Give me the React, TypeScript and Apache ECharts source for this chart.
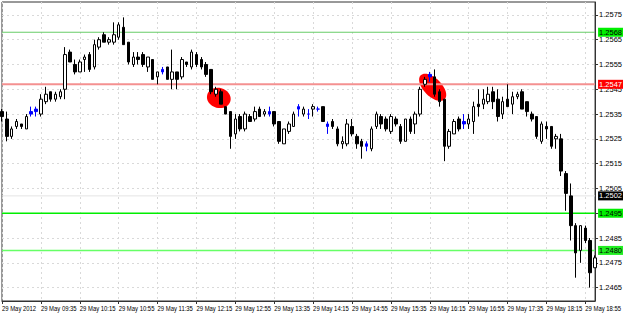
import React, { useEffect, useRef } from "react";
import * as echarts from "echarts";

// ---- data (5-minute bars, 29 May 2012, first bar 08:55) ----
const startMinutes = 8 * 60 + 55;
const barMinutes = 5;

const opens = [
  1.2536, 1.2533, 1.2526, 1.2530, 1.2531, 1.2529, 1.2536, 1.2537, 1.2535, 1.2540,
  1.2544, 1.2541, 1.2542, 1.2545, 1.2560, 1.2555, 1.2552, 1.2557, 1.2559, 1.2554,
  1.2562, 1.2567, 1.2564, 1.2564, 1.2566, 1.2570, 1.2564, 1.2555, 1.2558, 1.2559,
  1.2554, 1.2557, 1.2550, 1.2552, 1.2554, 1.2549, 1.2552, 1.2550, 1.2556, 1.2554,
  1.2559, 1.2557, 1.2555, 1.2553, 1.2543, 1.2544, 1.2538, 1.2536, 1.2527, 1.2534,
  1.2529, 1.2534, 1.2533, 1.2537, 1.2535, 1.2536, 1.2536, 1.2532, 1.2523, 1.2528,
  1.2530, 1.2538, 1.2535, 1.2535, 1.2537, 1.2537, 1.2538, 1.2531, 1.2532, 1.2529,
  1.2523, 1.2523, 1.2530, 1.2526, 1.2524, 1.2523, 1.2521, 1.2530, 1.2534, 1.2533,
  1.2528, 1.2533, 1.2530, 1.2524, 1.2533, 1.2531, 1.2535, 1.2547, 1.2551, 1.2550,
  1.2544, 1.2541, 1.2522, 1.2527, 1.2533, 1.2532, 1.2531, 1.2532, 1.2539, 1.2539,
  1.2540, 1.2544, 1.2541, 1.2535, 1.2541, 1.2539, 1.2542, 1.2544, 1.2540, 1.2535,
  1.2534, 1.2524, 1.2530, 1.2530, 1.2525, 1.2525, 1.2511, 1.2502, 1.2490, 1.2480,
  1.2489, 1.2484, 1.2473,
];
const highs = [
  1.2537, 1.2536, 1.2530, 1.2533, 1.2531, 1.2535, 1.2538, 1.2538, 1.2543, 1.2546,
  1.2544, 1.2544, 1.2545, 1.2562, 1.2561, 1.2557, 1.2557, 1.2559, 1.2560, 1.2565,
  1.2566, 1.2568, 1.2566, 1.2572, 1.2572, 1.2574, 1.2564, 1.2560, 1.2560, 1.2560,
  1.2558, 1.2557, 1.2552, 1.2554, 1.2554, 1.2561, 1.2552, 1.2558, 1.2556, 1.2561,
  1.2560, 1.2558, 1.2556, 1.2553, 1.2546, 1.2545, 1.2538, 1.2536, 1.2535, 1.2535,
  1.2536, 1.2535, 1.2538, 1.2538, 1.2537, 1.2538, 1.2536, 1.2532, 1.2529, 1.2532,
  1.2536, 1.2539, 1.2538, 1.2537, 1.2539, 1.2538, 1.2538, 1.2532, 1.2533, 1.2530,
  1.2526, 1.2533, 1.2533, 1.2527, 1.2525, 1.2524, 1.2530, 1.2536, 1.2535, 1.2534,
  1.2535, 1.2534, 1.2531, 1.2533, 1.2534, 1.2536, 1.2546, 1.2550, 1.2552, 1.2553,
  1.2545, 1.2541, 1.2529, 1.2533, 1.2534, 1.2535, 1.2535, 1.2540, 1.2545, 1.2545,
  1.2546, 1.2546, 1.2545, 1.2542, 1.2547, 1.2544, 1.2544, 1.2545, 1.2540, 1.2536,
  1.2534, 1.2532, 1.2532, 1.2530, 1.2527, 1.2527, 1.2512, 1.2507, 1.2491, 1.2490,
  1.2490, 1.2485, 1.2478,
];
const lows = [
  1.2532, 1.2524, 1.2525, 1.2529, 1.2529, 1.2529, 1.2534, 1.2534, 1.2534, 1.2539,
  1.2540, 1.2540, 1.2541, 1.2541, 1.2556, 1.2551, 1.2552, 1.2552, 1.2552, 1.2553,
  1.2561, 1.2564, 1.2563, 1.2563, 1.2565, 1.2563, 1.2555, 1.2554, 1.2555, 1.2554,
  1.2552, 1.2549, 1.2547, 1.2551, 1.2549, 1.2545, 1.2545, 1.2549, 1.2554, 1.2553,
  1.2554, 1.2553, 1.2550, 1.2543, 1.2542, 1.2539, 1.2535, 1.2521, 1.2525, 1.2528,
  1.2528, 1.2532, 1.2532, 1.2534, 1.2534, 1.2534, 1.2530, 1.2523, 1.2523, 1.2527,
  1.2530, 1.2534, 1.2534, 1.2533, 1.2534, 1.2536, 1.2532, 1.2527, 1.2529, 1.2522,
  1.2521, 1.2522, 1.2526, 1.2521, 1.2517, 1.2520, 1.2520, 1.2529, 1.2529, 1.2528,
  1.2527, 1.2530, 1.2523, 1.2524, 1.2527, 1.2527, 1.2534, 1.2546, 1.2548, 1.2542,
  1.2538, 1.2516, 1.2521, 1.2527, 1.2528, 1.2529, 1.2529, 1.2527, 1.2534, 1.2537,
  1.2539, 1.2537, 1.2532, 1.2533, 1.2538, 1.2535, 1.2541, 1.2537, 1.2534, 1.2532,
  1.2525, 1.2523, 1.2525, 1.2521, 1.2521, 1.2510, 1.2496, 1.2484, 1.2469, 1.2475,
  1.2483, 1.2465, 1.2473,
];
const closes = [
  1.2534, 1.2526, 1.2529, 1.2532, 1.2530, 1.2534, 1.2535, 1.2536, 1.2541, 1.2543,
  1.2541, 1.2543, 1.2544, 1.2559, 1.2556, 1.2552, 1.2556, 1.2558, 1.2553, 1.2563,
  1.2565, 1.2564, 1.2565, 1.2567, 1.2571, 1.2563, 1.2556, 1.2558, 1.2557, 1.2555,
  1.2558, 1.2549, 1.2552, 1.2553, 1.2549, 1.2552, 1.2549, 1.2557, 1.2555, 1.2560,
  1.2555, 1.2554, 1.2551, 1.2544, 1.2545, 1.2539, 1.2535, 1.2526, 1.2533, 1.2529,
  1.2535, 1.2532, 1.2536, 1.2534, 1.2536, 1.2535, 1.2531, 1.2524, 1.2529, 1.2531,
  1.2535, 1.2537, 1.2537, 1.2535, 1.2538, 1.2537, 1.2532, 1.2530, 1.2530, 1.2523,
  1.2524, 1.2531, 1.2527, 1.2523, 1.2522, 1.2522, 1.2529, 1.2535, 1.2531, 1.2529,
  1.2534, 1.2531, 1.2524, 1.2533, 1.2528, 1.2535, 1.2545, 1.2549, 1.2550, 1.2543,
  1.2540, 1.2522, 1.2528, 1.2532, 1.2529, 1.2531, 1.2533, 1.2538, 1.2538, 1.2541,
  1.2543, 1.2540, 1.2534, 1.2540, 1.2538, 1.2542, 1.2543, 1.2537, 1.2536, 1.2533,
  1.2526, 1.2531, 1.2529, 1.2522, 1.2526, 1.2512, 1.2503, 1.2490, 1.2479, 1.2490,
  1.2484, 1.2471, 1.2477,
];
// bars drawn in blue
const blueBars = [6, 7, 33, 55, 61, 63, 65, 67, 75, 88, 95];

const xTickLabels = [
  "29 May 2012", "29 May 09:35", "29 May 10:15", "29 May 10:55", "29 May 11:35",
  "29 May 12:15", "29 May 12:55", "29 May 13:35", "29 May 14:15", "29 May 14:55",
  "29 May 15:35", "29 May 16:15", "29 May 16:55", "29 May 17:35", "29 May 18:15",
  "29 May 18:55",
];
const xTickEvery = 8;
const yTicks = [
  1.2575, 1.2565, 1.2555, 1.2545, 1.2535, 1.2525, 1.2515, 1.2505, 1.2495, 1.2485,
  1.2475, 1.2465,
];
const yMin = 1.24596;
const yMax = 1.25802;

// horizontal levels
const levelPrices = [1.2568, 1.2547, 1.2502, 1.2495, 1.248];
// ellipse annotations anchored at [bar index, price]
const ellipseAnchors = [
  [44.6, 1.25415],
  [88.6, 1.25458],
];

const categories = opens.map((_, i) => {
  const m = startMinutes + i * barMinutes;
  const hh = String(Math.floor(m / 60)).padStart(2, "0");
  const mm = String(m % 60).padStart(2, "0");
  return `29 May ${hh}:${mm}`;
});

const levelStyles = [
  { line: "#66cc66", width: 1, bg: "#00ee00", fg: "#000000" },
  { line: "#f49090", width: 2, bg: "#ff0000", fg: "#ffffff" },
  { line: "#e4e4e4", width: 1, bg: "#000000", fg: "#ffffff" },
  { line: "#00ee00", width: 1.5, bg: "#00ee00", fg: "#000000" },
  { line: "#66ff66", width: 1.5, bg: "#22ee22", fg: "#000000" },
];
const ellipseShapes = [
  { rx: 12, ry: 10, rot: -0.25 },
  { rx: 17, ry: 9, rot: -Math.PI / 4 },
];

const FONT = '"Liberation Sans", Arial, sans-serif';

export default function App() {
  const ref = useRef<HTMLDivElement>(null);
  useEffect(() => {
    if (!ref.current) return;
    const chart = echarts.init(ref.current, undefined, { renderer: "svg" });
    const blueSet = new Set(blueBars);
    const lastIndex = opens.length - 1;
    const data = opens.map((o, i) => {
      const item: any = { value: [o, closes[i], lows[i], highs[i]] };
      if (blueSet.has(i)) {
        item.itemStyle = {
          color: "#0000ff",
          color0: "#0000ff",
          borderColor: "#0000ff",
          borderColor0: "#0000ff",
        };
      }
      return item;
    });
    const levelSeries = levelPrices.map((p, i) => ({
      type: "line",
      name: "level" + i,
      data: [
        [0, p],
        [lastIndex, p],
      ],
      showSymbol: false,
      symbol: "none",
      silent: true,
      z: 1,
      clip: false,
      lineStyle: { color: levelStyles[i].line, width: levelStyles[i].width },
      endLabel: {
        show: true,
        distance: 3,
        formatter: () => p.toFixed(4),
        fontSize: 7.5,
        fontFamily: FONT,
        color: levelStyles[i].fg,
        backgroundColor: levelStyles[i].bg,
        padding: [1, 1, 0, 1],
      },
    }));
    chart.setOption({
      animation: false,
      backgroundColor: "#ffffff",
      grid: {
        left: 2,
        right: 27,
        top: 2,
        bottom: 13,
        show: true,
        borderColor: "#333333",
        borderWidth: 1,
        backgroundColor: "transparent",
      },
      xAxis: {
        type: "category",
        data: categories,
        boundaryGap: false,
        axisLine: { show: true, lineStyle: { color: "#333333", width: 1 } },
        axisTick: { show: true, interval: xTickEvery - 1, length: 3, lineStyle: { color: "#333333" } },
        axisLabel: { show: false, interval: xTickEvery - 1 },
        splitLine: {
          show: true,
          interval: xTickEvery - 1,
          lineStyle: { color: "#d9d9d9", type: [2, 3], width: 1 },
        },
      },
      yAxis: {
        type: "value",
        position: "right",
        min: yMin,
        max: yMax,
        scale: true,
        axisLine: { show: true, onZero: false, lineStyle: { color: "#333333", width: 1 } },
        axisTick: { show: true, length: 3, customValues: yTicks, lineStyle: { color: "#333333" } },
        axisLabel: {
          show: true,
          customValues: yTicks,
          margin: 4,
          fontSize: 7.5,
          fontFamily: FONT,
          color: "#000000",
          formatter: (v: number) => v.toFixed(4),
        },
        splitLine: {
          show: true,
          lineStyle: { color: "#d9d9d9", type: [2, 3], width: 1 },
        },
      },
      series: [
        ...levelSeries,
        {
          type: "candlestick",
          data,
          barWidth: 3,
          z: 2,
          itemStyle: {
            color: "#ffffff",
            color0: "#000000",
            borderColor: "#000000",
            borderColor0: "#000000",
            borderWidth: 1,
          },
        },
      ],
    });

    const toPx = (bar: number, price: number) => {
      const b0 = Math.floor(bar);
      const f = bar - b0;
      const p0 = chart.convertToPixel({ gridIndex: 0 }, [b0, price]) as number[];
      const p1 = chart.convertToPixel({ gridIndex: 0 }, [b0 + 1, price]) as number[];
      return [p0[0] + (p1[0] - p0[0]) * f, p0[1]];
    };
    const ellipses = ellipseAnchors.map((a, i) => {
      const [cx, cy] = toPx(a[0], a[1]);
      return {
        type: "ellipse",
        x: cx,
        y: cy,
        rotation: ellipseShapes[i].rot,
        shape: { cx: 0, cy: 0, rx: ellipseShapes[i].rx, ry: ellipseShapes[i].ry },
        style: { fill: "#ff0000" },
        z: 1,
        silent: true,
      };
    });
    const axisY = (chart.convertToPixel({ gridIndex: 0 }, [0, yMin]) as number[])[1];
    const xLabels = xTickLabels.map((t, k) => {
      const px = (chart.convertToPixel({ gridIndex: 0 }, [k * xTickEvery, yMin]) as number[])[0];
      return {
        type: "text",
        x: px,
        y: axisY + 3,
        scaleX: 0.74,
        silent: true,
        style: {
          text: t,
          fontSize: 8,
          fontFamily: FONT,
          fill: "#000000",
          align: "left",
          verticalAlign: "top",
        },
      };
    });
    chart.setOption({ graphic: [...ellipses, ...xLabels] });

    return () => chart.dispose();
  }, []);
  return (
    <div
      ref={ref}
      style={{ position: "fixed", left: 0, top: 0, width: 625, height: 314, background: "#fff" }}
    />
  );
}
